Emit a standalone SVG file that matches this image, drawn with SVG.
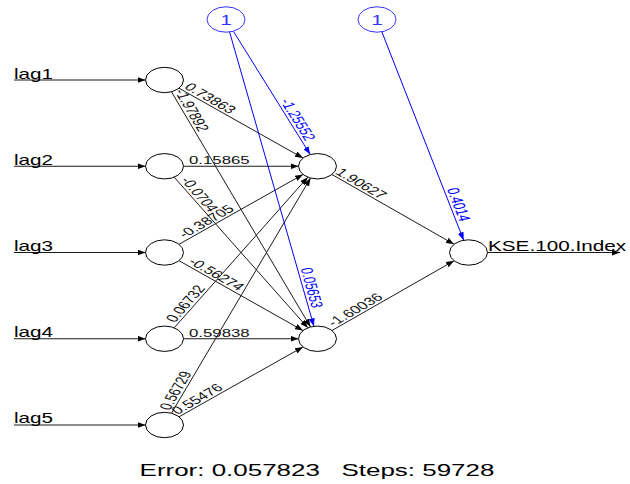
<svg xmlns="http://www.w3.org/2000/svg" width="630" height="484" viewBox="0 0 630 484">
<style>
.n{fill:#fff;stroke:#000;stroke-width:1}
.b{fill:#fff;stroke:#3333ff;stroke-width:1}
.e{stroke:#1a1a1a;stroke-width:1;fill:none;marker-end:url(#ak)}
.eb{stroke:#0000ff;stroke-width:1;fill:none;marker-end:url(#ab)}
text{font-family:"Liberation Sans",Arial,sans-serif}
.w{font-size:11.2px;fill:#111}
.wb{font-size:11.2px;fill:#0000ff}
.lb{font-size:13.8px;fill:#000}
.one{font-size:14px;fill:#3333ff;text-anchor:middle}
.ft{font-size:17.3px;fill:#000;text-anchor:middle}
</style>
<defs>
<marker id="ak" viewBox="0 0 8 6" refX="8" refY="3" markerWidth="8" markerHeight="6" markerUnits="userSpaceOnUse" orient="auto"><path d="M0,0 L8,3 L0,6 z" fill="#000"/></marker>
<marker id="ab" viewBox="0 0 8 6" refX="8" refY="3" markerWidth="8" markerHeight="6" markerUnits="userSpaceOnUse" orient="auto"><path d="M0,0 L8,3 L0,6 z" fill="#0000ff"/></marker>
</defs>
<g id="connectors">
<line class="e" x1="14" y1="80" x2="145.5" y2="80"/>
<line class="e" x1="14" y1="166.25" x2="145.5" y2="166.25"/>
<line class="e" x1="14" y1="252.5" x2="145.5" y2="252.5"/>
<line class="e" x1="14" y1="338.75" x2="145.5" y2="338.75"/>
<line class="e" x1="14" y1="425" x2="145.5" y2="425"/>
<line class="e" x1="179.02" y1="88.19" x2="302.98" y2="158.06"/>
<line class="e" x1="171.48" y1="91.81" x2="310.52" y2="326.94"/>
<line class="e" x1="183.5" y1="166.25" x2="298.5" y2="166.25"/>
<line class="e" x1="174.19" y1="177.17" x2="307.81" y2="327.83"/>
<line class="e" x1="179.02" y1="244.31" x2="302.98" y2="174.44"/>
<line class="e" x1="179.02" y1="260.69" x2="302.98" y2="330.56"/>
<line class="e" x1="174.19" y1="327.83" x2="307.81" y2="177.17"/>
<line class="e" x1="183.5" y1="338.75" x2="298.5" y2="338.75"/>
<line class="e" x1="171.48" y1="413.19" x2="310.52" y2="178.06"/>
<line class="e" x1="179.02" y1="416.81" x2="302.98" y2="346.94"/>
<line class="e" x1="331.94" y1="174.5" x2="454.06" y2="244.25"/>
<line class="e" x1="331.94" y1="330.5" x2="454.06" y2="260.75"/>
<line class="e" x1="487.5" y1="252.5" x2="620" y2="252.5"/>
<line class="eb" x1="233.31" y1="31.22" x2="310.19" y2="154.53"/>
<line class="eb" x1="229.57" y1="31.97" x2="313.93" y2="326.28"/>
<line class="eb" x1="381.82" y1="31.78" x2="463.68" y2="240.22"/>
<!-- weight labels -->
<text class="w" transform="translate(181.5,89.6) scale(1.5,1) rotate(40.22)" y="-2">0.73863</text>
<text class="w" transform="translate(171.5,91.8) scale(1.5,1) rotate(68.48)" y="-2">-1.97892</text>
<text class="w" transform="translate(189,166.25) scale(1.5,1)" y="-2">0.15865</text>
<text class="w" transform="translate(177.5,180.9) scale(1.5,1) rotate(59.41)" y="-2">-0.0704</text>
<text class="w" transform="translate(186.5,240.1) scale(1.5,1) rotate(-40.22)" y="-2">-0.38705</text>
<text class="w" transform="translate(185.5,264.3) scale(1.5,1) rotate(40.22)" y="-2">-0.56274</text>
<text class="w" transform="translate(177.5,324.1) scale(1.5,1) rotate(-59.41)" y="-2">0.06732</text>
<text class="w" transform="translate(189,338.75) scale(1.5,1)" y="-2">0.59838</text>
<text class="w" transform="translate(172.5,411.5) scale(1.5,1) rotate(-68.48)" y="-2">0.56729</text>
<text class="w" transform="translate(179.5,416.5) scale(1.5,1) rotate(-40.22)" y="-2">0.55476</text>
<text class="w" transform="translate(332.5,174.8) scale(1.5,1) rotate(40.59)" y="-2">1.90627</text>
<text class="w" transform="translate(335.5,328.5) scale(1.5,1) rotate(-40.59)" y="-2">-1.60036</text>
<text class="wb" transform="translate(277.1,101.5) scale(1.5,1) rotate(67.43)" y="-2">-1.25552</text>
<text class="wb" transform="translate(297.5,269) scale(1.5,1) rotate(79.18)" y="-2">0.05653</text>
<text class="wb" transform="translate(443.8,189.5) scale(1.5,1) rotate(75.33)" y="-2">0.4014</text>
</g>
<g id="lag1"><ellipse class="n" cx="164.5" cy="80" rx="19" ry="12.7"/><text class="lb" transform="translate(14,78.5) scale(1.5,1)">lag1</text></g>
<g id="lag2"><ellipse class="n" cx="164.5" cy="166.25" rx="19" ry="12.7"/><text class="lb" transform="translate(14,164.5) scale(1.5,1)">lag2</text></g>
<g id="lag3"><ellipse class="n" cx="164.5" cy="252.5" rx="19" ry="12.7"/><text class="lb" transform="translate(14,250.5) scale(1.5,1)">lag3</text></g>
<g id="lag4"><ellipse class="n" cx="164.5" cy="338.75" rx="19" ry="12.7"/><text class="lb" transform="translate(14,337) scale(1.5,1)">lag4</text></g>
<g id="lag5"><ellipse class="n" cx="164.5" cy="425" rx="19" ry="12.7"/><text class="lb" transform="translate(14,423) scale(1.5,1)">lag5</text></g>
<g id="hidden1"><ellipse class="n" cx="317.5" cy="166.25" rx="19" ry="12.7"/></g>
<g id="hidden2"><ellipse class="n" cx="317.5" cy="338.75" rx="19" ry="12.7"/></g>
<g id="output"><ellipse class="n" cx="468.5" cy="252.5" rx="19" ry="12.7"/><text class="lb" transform="translate(488,250.5) scale(1.5,1)">KSE.100.Index</text></g>
<g id="bias1"><ellipse class="b" cx="226" cy="19.5" rx="19" ry="12.7"/><text class="one" transform="translate(226,24.5) scale(1.5,1)">1</text></g>
<g id="bias2"><ellipse class="b" cx="377" cy="19.5" rx="19" ry="12.7"/><text class="one" transform="translate(377,24.5) scale(1.5,1)">1</text></g>
<text class="ft" xml:space="preserve" transform="translate(317,476) scale(1.5,1)">Error: 0.057823   Steps: 59728</text>
</svg>
